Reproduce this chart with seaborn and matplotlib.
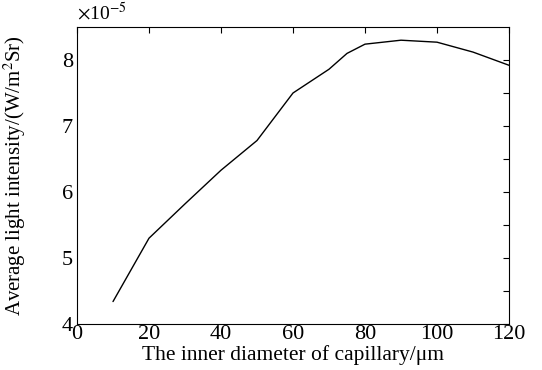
import matplotlib
matplotlib.use("Agg")
import matplotlib.pyplot as plt
import seaborn as sns
import pandas as pd

diameter_um = [10, 20, 30, 40, 50, 60, 70, 75, 80, 90, 100, 110, 120]
intensity_e5 = [4.34, 5.30, 5.82, 6.33, 6.78, 7.50, 7.86, 8.10, 8.24, 8.30, 8.27, 8.12, 7.92]
x_ticks = [0, 20, 40, 60, 80, 100, 120]
y_ticks = [4, 5, 6, 7, 8]

sns.set_theme(style="white")
plt.rcParams['font.family'] = ['Liberation Serif', 'DejaVu Serif']
plt.rcParams['mathtext.fontset'] = 'stix'

df = pd.DataFrame({"d": diameter_um, "I": intensity_e5})

fig = plt.figure(figsize=(5.42, 3.70), dpi=100)
ax = fig.add_axes([77/542, 1 - 324/370, (509-77)/542, (324-27)/370])
sns.lineplot(data=df, x="d", y="I", ax=ax, color="black", linewidth=1.0)

ax.set_xlim(0, 120)
ax.set_ylim(4, 8.5)
ax.set_xticks(x_ticks)
ax.set_yticks(y_ticks)
ax.set_yticks([4.5, 5.5, 6.5, 7.5], minor=True)
ax.tick_params(which="both", direction="in", top=True, right=True, length=4, width=0.8,
               labelsize=16, colors="black")
ax.tick_params(axis="x", pad=1)
ax.tick_params(axis="y", pad=3)
ax.tick_params(which="minor", length=4)
for s in ax.spines.values():
    s.set_color("black")
    s.set_linewidth(0.8)

ax.set_xlabel("The inner diameter of capillary/μm", fontsize=15.5, color="black", labelpad=0.5)
ax.set_ylabel("Average light intensity/(W/m$^{2}$Sr)", fontsize=15, color="black", labelpad=24)
ax.text(0.0, 1.01, r"$\times$10$^{-5}$", transform=ax.transAxes, fontsize=14,
        ha="left", va="bottom", color="black")

fig.savefig("out.png", dpi=100)
